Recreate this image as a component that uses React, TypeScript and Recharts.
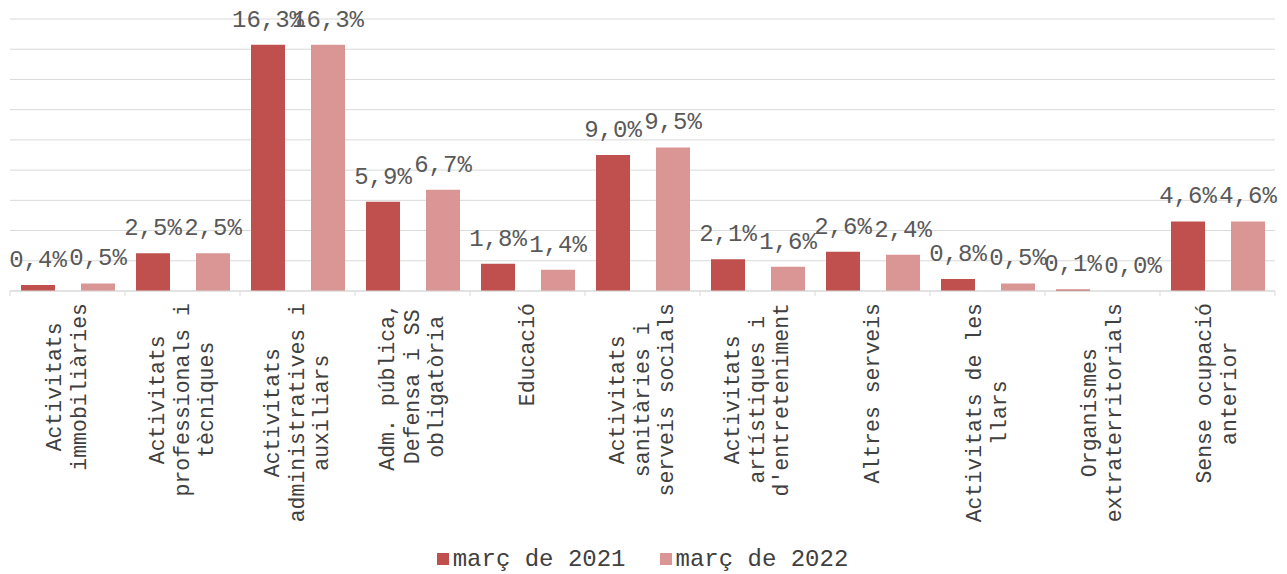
import React from "react";
import { BarChart, Bar, XAxis, YAxis, CartesianGrid, Legend, LabelList } from "recharts";

const categories = [
  "Activitats\nimmobiliàries",
  "Activitats\nprofessionals i\ntècniques",
  "Activitats\nadministratives i\nauxiliars",
  "Adm. pública,\nDefensa i SS\nobligatòria",
  "Educació",
  "Activitats\nsanitàries i\nserveis socials",
  "Activitats\nartístiques i\nd'entreteniment",
  "Altres serveis",
  "Activitats de les\nllars",
  "Organismes\nextraterritorials",
  "Sense ocupació\nanterior",
];
const marc2021 = [0.4, 2.5, 16.3, 5.9, 1.8, 9.0, 2.1, 2.6, 0.8, 0.1, 4.6];
const marc2022 = [0.5, 2.5, 16.3, 6.7, 1.4, 9.5, 1.6, 2.4, 0.5, 0.0, 4.6];
const yTicks = [0, 2, 4, 6, 8, 10, 12, 14, 16, 18];
const seriesNames = ["març de 2021", "març de 2022"];

const data = categories.map((c, i) => ({ cat: c, a: marc2021[i], b: marc2022[i] }));

const FONT = "'Liberation Mono', 'Courier New', monospace";
const C1 = "#C0504D";
const C2 = "#DA9694";
const W = 1287;
const H = 574;
const ML = 10;
const MR = 12;

const fmt = (v: any) => Number(v).toFixed(1).replace(".", ",") + "%";
const minSize = (v: any) => (Number(v) === 0 ? 0.01 : 0);

function Tick(props: any) {
  const { x, y, payload, index } = props;
  const half = payload && payload.offset ? payload.offset : (W - ML - MR) / categories.length / 2;
  const lines: string[] = String(payload.value).split("\n");
  const fs = 21.5;
  const adv = fs * 0.6;
  const maxLen = Math.max(...lines.map((l) => l.length));
  const lh = 24.5;
  const n = lines.length;
  const top = y + 12;
  return (
    <g>
      <line x1={x - half} x2={x - half} y1={y} y2={y + 5} stroke="#d9d9d9" strokeWidth={1} />
      {index === categories.length - 1 && (
        <line x1={x + half} x2={x + half} y1={y} y2={y + 5} stroke="#d9d9d9" strokeWidth={1} />
      )}
      <g transform={`translate(${x},${top}) rotate(-90)`}>
        {lines.map((l, i) => (
          <text
            key={i}
            x={-(maxLen * adv) / 2}
            y={(i - (n - 1) / 2) * lh}
            textAnchor="middle"
            dominantBaseline="central"
            fontFamily={FONT}
            fontSize={fs}
            fill="#404040"
          >
            {l}
          </text>
        ))}
      </g>
    </g>
  );
}

function LegendContent() {
  const items = [
    { name: seriesNames[0], color: C1 },
    { name: seriesNames[1], color: C2 },
  ];
  return (
    <div
      style={{
        height: 30,
        display: "flex",
        alignItems: "center",
        justifyContent: "center",
        gap: 34,
        fontFamily: FONT,
        fontSize: 24,
        color: "#404040",
      }}
    >
      {items.map((it) => (
        <div key={it.name} style={{ display: "flex", alignItems: "center" }}>
          <span style={{ display: "inline-block", width: 12, height: 12, background: it.color, marginRight: 4 }} />
          <span style={{ whiteSpace: "pre" }}>{it.name}</span>
        </div>
      ))}
    </div>
  );
}

export default function App() {
  return (
    <div style={{ position: "absolute", left: 0, top: 0, width: W, height: H, background: "#fff" }}>
      <BarChart
        width={W}
        height={H}
        data={data}
        margin={{ top: 19, right: MR, left: ML, bottom: 0 }}
        barCategoryGap={11}
        barGap={26}
      >
        <CartesianGrid vertical={false} stroke="#d9d9d9" strokeWidth={1} />
        <YAxis hide domain={[0, 18]} ticks={yTicks} type="number" />
        <XAxis
          dataKey="cat"
          interval={0}
          height={253}
          tickLine={false}
          tickSize={0}
          tickMargin={0}
          axisLine={{ stroke: "#d9d9d9", strokeWidth: 1 }}
          tick={<Tick />}
        />
        <Legend verticalAlign="bottom" content={<LegendContent />} />
        <Bar dataKey="a" name={seriesNames[0]} fill={C1} minPointSize={minSize} isAnimationActive={false}>
          <LabelList dataKey="a" position="top" offset={18} formatter={fmt} fill="#595959" fontFamily={FONT} fontSize={24} />
        </Bar>
        <Bar dataKey="b" name={seriesNames[1]} fill={C2} minPointSize={minSize} isAnimationActive={false}>
          <LabelList dataKey="b" position="top" offset={18} formatter={fmt} fill="#595959" fontFamily={FONT} fontSize={24} />
        </Bar>
      </BarChart>
    </div>
  );
}
